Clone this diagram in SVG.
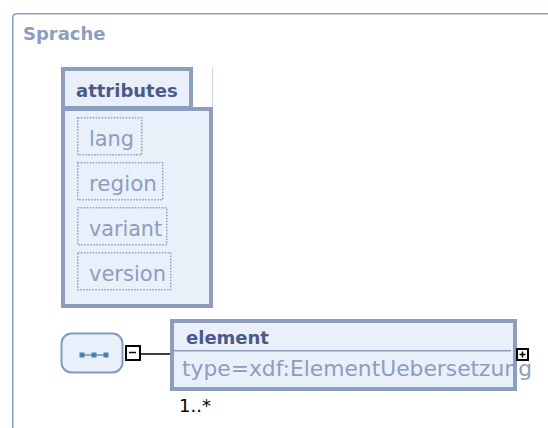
<svg xmlns="http://www.w3.org/2000/svg" width="548" height="428" viewBox="0 0 548 428">
  <defs>
    <style>
      .frame { fill: none; stroke: #8d9dbf; stroke-width: 1.5; }
      .box { fill: #eaf0fa; stroke: #8d9dbf; stroke-width: 4; }
      .title { font-family: "DejaVu Sans", Verdana, sans-serif; font-weight: bold; font-size: 18px; fill: #4b5a8b; }
      .label { font-family: "DejaVu Sans", Verdana, sans-serif; font-size: 21px; fill: #8d9dbf; }
      .attr { fill: none; stroke: #8d9dbf; stroke-width: 1.5; stroke-dasharray: 1.5 1.5; }
      .sign { fill: #ffffff; stroke: #000000; stroke-width: 2; }
      .conn { stroke: #000000; stroke-width: 1.5; fill: none; }
      .dot { fill: #4a7fb0; }
    </style>
  </defs>
  <rect width="548" height="428" fill="#ffffff"/>
  <g id="Sprache">
    <path class="frame" d="M12.75,430 V18 Q12.75,13.75 17,13.75 H550"/>
    <text x="23" y="40" class="title" style="fill:#8d9dbf">Sprache</text>
  </g>
  <g id="attributes">
    <rect class="box" x="63" y="109" width="148" height="197"/>
    <rect class="box" x="63" y="69" width="128" height="39"/>
    <line x1="212.5" y1="67" x2="212.5" y2="107" stroke="#d0d7e6" stroke-width="1"/>
    <text x="76" y="97" class="title">attributes</text>
    <g id="attr-lang">
      <rect class="attr" x="77.75" y="117.75" width="64" height="37"/>
      <text x="89" y="146" class="label" textLength="45" lengthAdjust="spacingAndGlyphs">lang</text>
    </g>
    <g id="attr-region">
      <rect class="attr" x="77.75" y="162.75" width="85" height="37"/>
      <text x="89" y="191" class="label" textLength="68" lengthAdjust="spacingAndGlyphs">region</text>
    </g>
    <g id="attr-variant">
      <rect class="attr" x="77.75" y="207.75" width="89" height="37"/>
      <text x="89" y="236" class="label" textLength="73" lengthAdjust="spacingAndGlyphs">variant</text>
    </g>
    <g id="attr-version">
      <rect class="attr" x="77.75" y="252.75" width="93" height="37"/>
      <text x="89" y="281" class="label" textLength="77" lengthAdjust="spacingAndGlyphs">version</text>
    </g>
  </g>
  <g id="sequence">
    <rect x="61.5" y="333.5" width="61" height="39" rx="10" ry="10" fill="#eaf0fa" stroke="#7f9dc0" stroke-width="2"/>
    <line x1="81" y1="355" x2="106" y2="355" stroke="#4a7fb0" stroke-width="1.2"/>
    <rect class="dot" x="79.5" y="352.5" width="5" height="5"/>
    <rect class="dot" x="91.5" y="352.5" width="5" height="5"/>
    <rect class="dot" x="103.5" y="352.5" width="5" height="5"/>
    <rect class="sign" x="126" y="346" width="14" height="14"/>
    <line x1="129" y1="352.5" x2="136" y2="352.5" stroke="#000" stroke-width="1.5"/>
  </g>
  <g id="connectors">
    <line class="conn" x1="141" y1="354" x2="170" y2="354"/>
  </g>
  <g id="element">
    <rect class="box" x="172" y="321" width="343" height="68"/>
    <line x1="174" y1="350.75" x2="511" y2="350.75" stroke="#8d9dbf" stroke-width="1.5"/>
    <text x="186" y="344" class="title">element</text>
    <text x="182" y="376" class="label" textLength="350" lengthAdjust="spacingAndGlyphs">type=xdf:ElementUebersetzung</text>
    <rect class="sign" x="517" y="349" width="11" height="11"/>
    <line x1="519.5" y1="354.5" x2="525.5" y2="354.5" stroke="#000" stroke-width="1.5"/>
    <line x1="522.5" y1="351.5" x2="522.5" y2="357.5" stroke="#000" stroke-width="1.5"/>
    <text x="179" y="412" style="font-family:'DejaVu Sans', Verdana, sans-serif; font-size:18px; fill:#000">1..*</text>
  </g>
</svg>
